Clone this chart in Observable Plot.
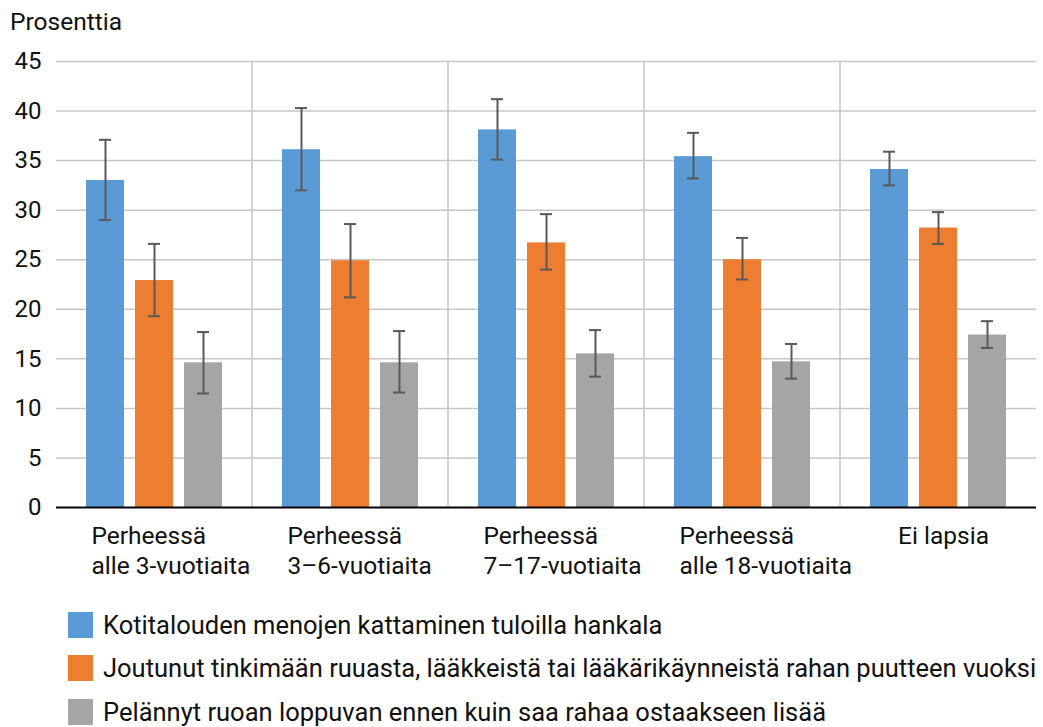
<!DOCTYPE html>
<html><head><meta charset="utf-8">
<script src="https://cdn.jsdelivr.net/npm/d3@7"></script>
<script src="https://cdn.jsdelivr.net/npm/@observablehq/plot@0.6"></script>
<style>
body{margin:0;background:#fff;font-family:Roboto,sans-serif;color:#111;}
#wrap{position:relative;width:1043px;height:727px;overflow:hidden;}
#ytitle{position:absolute;left:10px;top:8px;font-size:24.5px;line-height:28px;}
#chart{position:absolute;left:0;top:40px;}
#legend{position:absolute;left:68px;top:603px;}
.item{display:flex;align-items:center;height:43.5px;font-size:25.5px;white-space:nowrap;}
.sw{width:25px;height:26px;margin-right:10px;flex:none;}
</style></head><body>
<div id="wrap"><div id="ytitle">Prosenttia</div><div id="chart"></div><div id="legend"></div></div>
<script>
const groups = ["Perheessä\nalle 3-vuotiaita", "Perheessä\n3–6-vuotiaita", "Perheessä\n7–17-vuotiaita", "Perheessä\nalle 18-vuotiaita", "Ei lapsia"];
const series = [
  "Kotitalouden menojen kattaminen tuloilla hankala",
  "Joutunut tinkimään ruuasta, lääkkeistä tai lääkärikäynneistä rahan puutteen vuoksi",
  "Pelännyt ruoan loppuvan ennen kuin saa rahaa ostaakseen lisää"
];
const colors = ["#5B9BD5", "#ED7D31", "#A5A5A5"];
const valuesKotitalous = [33.0, 36.1, 38.1, 35.4, 34.1];
const lowKotitalous    = [29.0, 32.0, 35.1, 33.2, 32.5];
const highKotitalous   = [37.1, 40.3, 41.2, 37.8, 35.9];
const valuesTinkiminen = [22.9, 24.9, 26.7, 25.0, 28.2];
const lowTinkiminen    = [19.3, 21.2, 24.0, 23.0, 26.6];
const highTinkiminen   = [26.6, 28.6, 29.6, 27.2, 29.8];
const valuesPelko      = [14.6, 14.6, 15.5, 14.7, 17.4];
const lowPelko         = [11.5, 11.6, 13.2, 13.0, 16.1];
const highPelko        = [17.7, 17.8, 17.9, 16.5, 18.8];
const yTicks = [0, 5, 10, 15, 20, 25, 30, 35, 40, 45];

const seriesData = [
  [valuesKotitalous, lowKotitalous, highKotitalous],
  [valuesTinkiminen, lowTinkiminen, highTinkiminen],
  [valuesPelko, lowPelko, highPelko]
];
const table = [];
groups.forEach((g, gi) => {
  series.forEach((s, si) => {
    const [v, lo, hi] = seriesData[si];
    table.push({group: g, series: s, value: v[gi], low: lo[gi], high: hi[gi]});
  });
});

const errColor = "#595959";
const labelStyle = {fontSize: 24.5, lineHeight: 1.22, fill: "#111", lineAnchor: "top", dy: 15};
const plot = Plot.plot({
  width: 1043, height: 547,
  marginTop: 21, marginLeft: 55, marginRight: 6, marginBottom: 80,
  style: {fontFamily: "Roboto, sans-serif", fontSize: "24px", color: "#111", background: "transparent", overflow: "visible"},
  fx: {domain: groups, paddingInner: 0, paddingOuter: 0, axis: null, label: null},
  x: {domain: series, paddingInner: 0.23, paddingOuter: 0.595, axis: null},
  y: {domain: [0, 45], ticks: yTicks, tickSize: 0, tickPadding: 15, label: null},
  color: {domain: series, range: colors},
  marks: [
    Plot.ruleY(yTicks.filter(t => t > 0), {stroke: "#c6c6c6", strokeWidth: 1.5}),
    Plot.rect(groups.slice(1), {
      fx: d => d, y1: 0, y2: 45, fill: "none", stroke: "#c6c6c6",
      render(index, scales, values, dimensions) {
        const g = d3.create("svg:g");
        for (const i of index) {
          g.append("line")
            .attr("x1", dimensions.marginLeft).attr("x2", dimensions.marginLeft)
            .attr("y1", values.y2[i]).attr("y2", values.y1[i])
            .attr("stroke", "#c6c6c6").attr("stroke-width", 1.5);
        }
        return g.node();
      }
    }),
    Plot.barY(table, {fx: "group", x: "series", y: "value", fill: "series"}),
    Plot.ruleX(table, {fx: "group", x: "series", y1: "low", y2: "high", stroke: errColor, strokeWidth: 2}),
    Plot.tickY(table, {fx: "group", x: "series", y: "low", stroke: errColor, strokeWidth: 2, inset: 13}),
    Plot.tickY(table, {fx: "group", x: "series", y: "high", stroke: errColor, strokeWidth: 2, inset: 13}),
    Plot.ruleY([0], {stroke: "#000", strokeWidth: 2}),
    Plot.text(groups.filter(d => d.includes("\n")), {
      fx: d => d, text: d => d, frameAnchor: "bottom-left", textAnchor: "start", dx: 35, ...labelStyle
    }),
    Plot.text(groups.filter(d => !d.includes("\n")), {
      fx: d => d, text: d => d, frameAnchor: "bottom", textAnchor: "middle", dx: 5, ...labelStyle
    })
  ]
});
document.getElementById("chart").appendChild(plot);

const legend = document.getElementById("legend");
series.forEach((s, i) => {
  const row = document.createElement("div");
  row.className = "item";
  const sw = document.createElement("div");
  sw.className = "sw";
  sw.style.background = colors[i];
  const lab = document.createElement("span");
  lab.textContent = s;
  row.appendChild(sw); row.appendChild(lab);
  legend.appendChild(row);
});
</script>
</body></html>
